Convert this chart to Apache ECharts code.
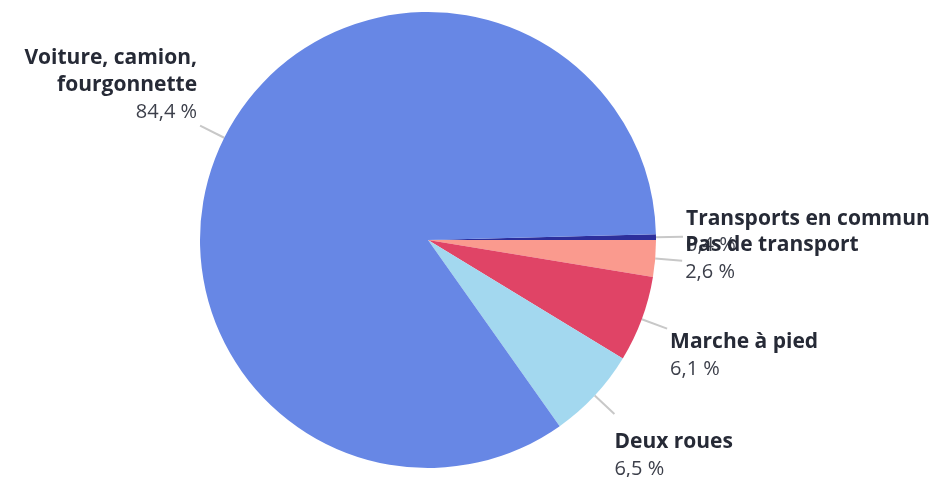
<!DOCTYPE html>
<html>
<head>
<meta charset="utf-8">
<script src="https://cdn.jsdelivr.net/npm/echarts@6/dist/echarts.min.js"></script>
<style>
html,body{margin:0;padding:0;background:#fff;}
#chart{width:937px;height:477px;}
</style>
</head>
<body>
<div id="chart"></div>
<script>
var categories = ['Transports en commun', 'Pas de transport', 'Marche à pied', 'Deux roues', 'Voiture, camion,\nfourgonnette'];
var values = [0.4, 2.6, 6.1, 6.5, 84.4];
var colors = ['#2d2f9c', '#fa9a8e', '#e04466', '#a3d8ef', '#6787e5'];
// label paddings [top, right, bottom, left] to shift text blocks relative to leader line end
var labelPads = [[0,0,9,0], [0,0,5,0], [54,0,0,0], [84,0,0,0], [0,0,81,0]];
var labelGaps = [3, 3, 3, 0, 3];

var total = values.reduce(function(a,b){return a+b;}, 0);
var data = categories.map(function(c, i){
  return {
    name: c,
    value: values[i],
    itemStyle: {color: colors[i]},
    label: {padding: labelPads[i], distanceToLabelLine: labelGaps[i]}
  };
});

var chart = echarts.init(document.getElementById('chart'), null, {renderer: 'canvas'});
chart.setOption({
  animation: false,
  backgroundColor: '#ffffff',
  series: [{
    type: 'pie',
    center: [428, 240],
    radius: [0, 228],
    startAngle: values[0] / total * 360,
    clockwise: true,
    avoidLabelOverlap: false,
    minShowLabelAngle: 0,
    data: data,
    itemStyle: {borderWidth: 0},
    labelLayout: {hideOverlap: false},
    label: {
      show: true,
      position: 'outside',
      overflow: 'none',
      fontFamily: 'Open Sans',
      formatter: function(p){
        return '{t|' + p.name.split('\n').join('}\n{t|') + '}\n{v|' + String(p.value).replace('.', ',') + ' %}';
      },
      rich: {
        t: {fontFamily: 'Open Sans', fontWeight: 'bold', fontSize: 21, lineHeight: 27, color: '#262a36'},
        v: {fontFamily: 'Open Sans', fontSize: 20, lineHeight: 27, color: '#3c3f4a'}
      }
    },
    labelLine: {
      show: true,
      length: 27,
      length2: 0,
      lineStyle: {color: '#c8c8c8', width: 2}
    },
    emphasis: {disabled: true}
  }]
});
</script>
</body>
</html>
